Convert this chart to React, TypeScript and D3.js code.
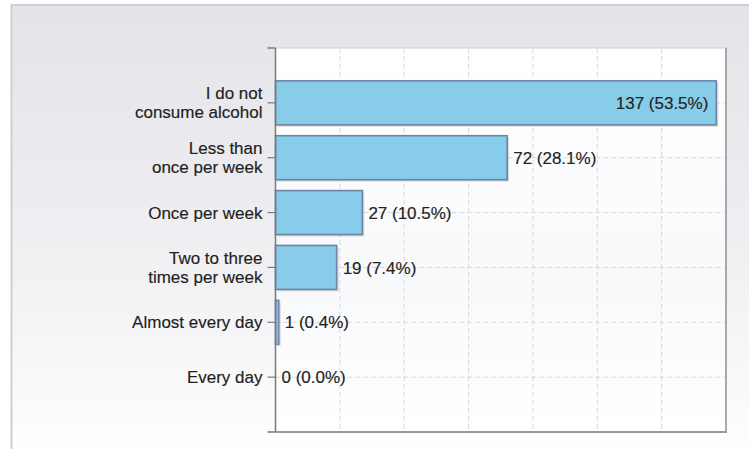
import React from 'react';
import * as d3 from 'd3';

// answer categories, each split into the lines shown on the axis
const categories = [
  'I do not consume alcohol',
  'Less than once per week',
  'Once per week',
  'Two to three times per week',
  'Almost every day',
  'Every day',
];
const categoryLines = [
  ['I do not', 'consume alcohol'],
  ['Less than', 'once per week'],
  ['Once per week'],
  ['Two to three', 'times per week'],
  ['Almost every day'],
  ['Every day'],
];
const counts = [137, 72, 27, 19, 1, 0];
const xTicks = [0, 20, 40, 60, 80, 100, 120, 140];

const W = 749;
const H = 449;
const plot = { left: 275.5, right: 726, top: 48, bottom: 432 };
const FONT = '"Liberation Sans", Arial, sans-serif';

const App: React.FC = () => {
  const total = d3.sum(counts);
  const x = d3.scaleLinear().domain([0, 140]).range([plot.left, plot.right]);
  const y = d3.scalePoint<string>().domain(categories).range([plot.top, plot.bottom]).padding(1);
  const barH = 44;

  return (
    <svg width={W} height={H} style={{ position: 'absolute', left: 0, top: 0 }} fontFamily={FONT}>
      <defs>
        <linearGradient id="panelBg" x1="0" y1="0" x2="0" y2="1">
          <stop offset="0" stopColor="#e3e3e9" />
          <stop offset="0.55" stopColor="#f0f0f3" />
          <stop offset="1" stopColor="#ffffff" />
        </linearGradient>
        <linearGradient id="plotBg" x1="0" y1="0" x2="0" y2="1">
          <stop offset="0" stopColor="#ffffff" />
          <stop offset="0.6" stopColor="#f8f9fb" />
          <stop offset="1" stopColor="#ffffff" />
        </linearGradient>
      </defs>

      <rect width={W} height={H} fill="#ffffff" />
      {/* outer panel */}
      <rect x={11.5} y={5} width={W + 10} height={H + 10} fill="url(#panelBg)" stroke="#cfcfd2" strokeWidth={2} />

      {/* plot area */}
      <rect x={plot.left} y={plot.top} width={plot.right - plot.left} height={plot.bottom - plot.top}
        fill="url(#plotBg)" stroke="#d0d0d0" strokeWidth={1} />

      {/* vertical grid */}
      {xTicks.slice(1, -1).map(t => (
        <line key={`vx${t}`} x1={x(t)} x2={x(t)} y1={plot.top} y2={plot.bottom}
          stroke="#d9d9d9" strokeWidth={1} strokeDasharray="5,3" />
      ))}
      {/* horizontal grid */}
      {categories.map(c => (
        <line key={`hy${c}`} x1={plot.left} x2={plot.right} y1={y(c)} y2={y(c)}
          stroke="#d9d9d9" strokeWidth={1} strokeDasharray="5,3" />
      ))}

      {/* plot frame right / bottom */}
      <line x1={plot.right} x2={plot.right} y1={plot.top} y2={plot.bottom + 1} stroke="#a9a9a9" strokeWidth={2} />
      <line x1={plot.left} x2={plot.right + 1} y1={plot.bottom} y2={plot.bottom} stroke="#9a9a9a" strokeWidth={2} />

      {/* bars */}
      {categories.map((c, i) => {
        const v = counts[i];
        const yc = y(c) as number;
        const w = x(v) - x(0);
        if (v === 0) return null;
        return (
          <g key={`b${c}`}>
            <rect x={x(0) + 2} y={yc - barH / 2 + 2} width={w} height={barH} fill="rgba(0,0,0,0.12)" />
            <rect x={x(0)} y={yc - barH / 2} width={w} height={barH}
              fill="#87cde9" stroke="#6e84a6" strokeWidth={1.6} />
          </g>
        );
      })}

      {/* y axis */}
      <line x1={plot.left} x2={plot.left} y1={plot.top} y2={plot.bottom} stroke="#7a7a7a" strokeWidth={1.5} />
      <line x1={plot.left - 8} x2={plot.left} y1={plot.top} y2={plot.top} stroke="#7a7a7a" strokeWidth={1.5} />
      <line x1={plot.left - 8} x2={plot.left} y1={plot.bottom} y2={plot.bottom} stroke="#7a7a7a" strokeWidth={1.5} />
      {categories.map((c, i) => {
        const yc = y(c) as number;
        const lines = categoryLines[i];
        const lh = 19;
        const y0 = yc - ((lines.length - 1) * lh) / 2;
        return (
          <g key={`t${c}`}>
            <line x1={plot.left - 8} x2={plot.left} y1={yc} y2={yc} stroke="#7a7a7a" strokeWidth={1.2} />
            {lines.map((ln, j) => (
              <text key={j} x={plot.left - 13} y={y0 + j * lh} dy="0.36em" textAnchor="end"
                fontSize={17} fill="#222" stroke="#222" strokeWidth={0.15}>{ln}</text>
            ))}
          </g>
        );
      })}

      {/* value labels */}
      {categories.map((c, i) => {
        const v = counts[i];
        const yc = y(c) as number;
        const label = `${v} (${((v / total) * 100).toFixed(1)}%)`;
        const inside = v > 100;
        return (
          <text key={`l${c}`} x={inside ? x(v) - 8 : x(v) + 6} y={yc} dy="0.36em"
            textAnchor={inside ? 'end' : 'start'} fontSize={17} fill="#222"
            stroke="#222" strokeWidth={0.15}>{label}</text>
        );
      })}
    </svg>
  );
};

export default App;
